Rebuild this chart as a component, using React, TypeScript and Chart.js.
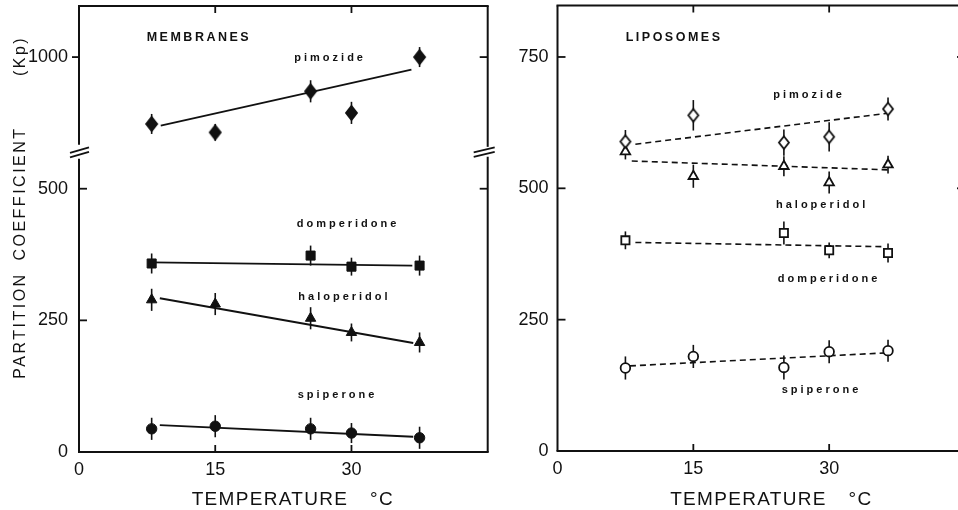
import React, { useEffect, useRef } from 'react';
import { Chart, registerables } from 'chart.js';

Chart.register(...registerables);

const FONT = "'Liberation Sans', Arial, Helvetica, sans-serif";
const INK = '#111111';

// ---------------- Data ----------------
// temperatures (°C)
const membraneTemps = [8, 15, 25.5, 30, 37.5];
const liposomeTemps = [7.5, 15, 25, 30, 36.5];

// Membranes: partition coefficients (Kp) and error half-widths
const memPimozide = [873, 857, 935, 894, 1000];
const memPimozideErr = [19, 16, 21, 21, 19];
const memDomperidone = [358, null, 373, 352, 354];
const memDomperidoneErr = [19, 0, 19, 17, 19];
const memHaloperidol = [289, 281, 254, 227, 208];
const memHaloperidolErr = [21, 21, 21, 17, 19];
const memSpiperone = [44, 49, 44, 36, 27];
const memSpiperoneErr = [21, 21, 21, 19, 21];

// Membranes: regression lines (start/end temperature, start/end Kp)
const memPimozideFitT = [9, 36.6];
const memPimozideFitK = [870, 976];
const memDomperidoneFitT = [8, 36.7];
const memDomperidoneFitK = [360, 354];
const memHaloperidolFitT = [8.9, 36.8];
const memHaloperidolFitK = [292, 207];
const memSpiperoneFitT = [8.9, 36.8];
const memSpiperoneFitK = [51, 29];

// Liposomes: partition coefficients (Kp) and error half-widths
const lipPimozide = [589, 639, 587, 598, 651];
const lipPimozideErr = [22, 29, 25, 28, 22];
const lipHaloperidol = [570, 523, 542, 511, 545];
const lipHaloperidolErr = [15, 22, 19, 21, 17];
const lipDomperidone = [401, null, 415, 382, 377];
const lipDomperidoneErr = [17, 0, 22, 15, 18];
const lipSpiperone = [158, 180, 159, 189, 191];
const lipSpiperoneErr = [22, 22, 23, 22, 21];

// Liposomes: regression lines
const lipPimozideFitT = [8.6, 36.5];
const lipPimozideFitK = [584, 643];
const lipHaloperidolFitT = [8.2, 36.7];
const lipHaloperidolFitK = [552, 535];
const lipDomperidoneFitT = [8.6, 35.8];
const lipDomperidoneFitK = [397, 389];
const lipSpiperoneFitT = [8.0, 36.5];
const lipSpiperoneFitK = [162, 187];

// Axes
const tempTicks = [0, 15, 30];
const tempRange = [0, 45];
const memKpTicksLower = [0, 250, 500];
const memKpTicksUpper = [1000];
const memLowerRange = [0, 570];
const memUpperRange = [820, 1097];
const lipKpTicks = [0, 250, 500, 750];
const lipRange = [0, 848];

// Text
const yTitleWords = ['PARTITION', 'COEFFICIENT', '(Kp)'];
const xTitleWord = 'TEMPERATURE';
const xTitleUnit = '°C';
const memPanelLabel = 'MEMBRANES';
const lipPanelLabel = 'LIPOSOMES';
const drugNames = { pim: 'pimozide', dom: 'domperidone', hal: 'haloperidol', spi: 'spiperone' };

// ---------------- helpers ----------------
function points(temps: number[], vals: (number | null)[], errs: number[]) {
  const out: any[] = [];
  temps.forEach((t, i) => {
    if (vals[i] != null) out.push({ x: t, y: vals[i], err: errs[i] });
  });
  return out;
}
function fit(ts: number[], ks: number[]) {
  return [{ x: ts[0], y: ks[0] }, { x: ts[1], y: ks[1] }];
}
function diamond(w: number, h: number, filled: boolean) {
  const lw = 1.8;
  const c = document.createElement('canvas');
  c.width = Math.ceil(w + lw * 2 + 2);
  c.height = Math.ceil(h + lw * 2 + 2);
  const ctx = c.getContext('2d')!;
  const cx = c.width / 2, cy = c.height / 2;
  ctx.beginPath();
  ctx.moveTo(cx, cy - h / 2);
  ctx.lineTo(cx + w / 2, cy);
  ctx.lineTo(cx, cy + h / 2);
  ctx.lineTo(cx - w / 2, cy);
  ctx.closePath();
  ctx.fillStyle = filled ? INK : '#ffffff';
  ctx.fill();
  ctx.lineWidth = lw;
  ctx.strokeStyle = INK;
  ctx.stroke();
  return c;
}

function markerSet(data: any[], style: any, radius: number, filled: boolean, yAxisID: string) {
  return {
    data,
    showLine: false,
    pointStyle: style,
    pointRadius: radius,
    pointBackgroundColor: filled ? INK : '#ffffff',
    pointBorderColor: INK,
    pointBorderWidth: filled ? 1 : 1.8,
    yAxisID,
    order: 0,
    errorBars: true,
  };
}
function lineSet(data: any[], dashed: boolean, yAxisID: string) {
  return {
    data,
    showLine: true,
    pointRadius: 0,
    borderColor: INK,
    borderWidth: dashed ? 1.6 : 1.8,
    borderDash: dashed ? [6, 4] : [],
    yAxisID,
    order: 1,
  };
}

function line(ctx: CanvasRenderingContext2D, x1: number, y1: number, x2: number, y2: number) {
  ctx.beginPath();
  ctx.moveTo(x1, y1);
  ctx.lineTo(x2, y2);
  ctx.stroke();
}

function text(ctx: any, s: string, x: number, y: number, font: string, spacing: number, align = 'left', baseline = 'middle') {
  ctx.save();
  ctx.font = font;
  ctx.letterSpacing = spacing + 'px';
  ctx.textAlign = align;
  ctx.textBaseline = baseline;
  ctx.fillStyle = INK;
  ctx.fillText(s, x, y);
  ctx.restore();
}

function panelPlugin(cfg: any) {
  return {
    id: 'panel_' + cfg.name,
    beforeDatasetsDraw(chart: any) {
      const ctx = chart.ctx;
      ctx.save();
      ctx.strokeStyle = INK;
      ctx.lineWidth = 1.6;
      chart.data.datasets.forEach((ds: any, i: number) => {
        if (!ds.errorBars) return;
        const meta = chart.getDatasetMeta(i);
        const xs = chart.scales[meta.xAxisID];
        const ys = chart.scales[meta.yAxisID];
        ds.data.forEach((p: any) => {
          if (!p.err) return;
          const px = xs.getPixelForValue(p.x);
          line(ctx, px, ys.getPixelForValue(p.y + p.err), px, ys.getPixelForValue(p.y - p.err));
        });
      });
      ctx.restore();
    },
    afterDraw(chart: any) {
      const ctx = chart.ctx;
      const { left: L, right: R, top: T, bottom: B } = chart.chartArea;
      const xs = chart.scales.x;
      ctx.save();
      ctx.strokeStyle = INK;
      ctx.lineWidth = 2;
      // frame
      line(ctx, L - 1, T, R + 1, T);
      line(ctx, L - 1, B, R + 1, B);
      if (cfg.breakScale) {
        const bY = chart.scales[cfg.breakScale].bottom;
        line(ctx, L, T, L, bY - 7);
        line(ctx, L, bY + 7, L, B);
        line(ctx, R, T, R, bY - 5);
        line(ctx, R, bY + 5, R, B);
        ctx.lineWidth = 1.8;
        for (const k of [0, 4.5]) {
          line(ctx, L - 9, bY + 1 + k, L + 10, bY - 4.5 + k);
          line(ctx, R - 14, bY + 0.5 + k, R + 7, bY - 4.5 + k);
        }
      } else {
        line(ctx, L, T, L, B);
        line(ctx, R, T, R, B);
      }
      // ticks
      ctx.lineWidth = 1.8;
      const TL = 7;
      cfg.leftTicks.forEach((t: any) => {
        const y = chart.scales[t.scale].getPixelForValue(t.value);
        if (t.dir === 'out') line(ctx, L - TL, y, L, y);
        else line(ctx, L, y, L + TL + 1, y);
      });
      cfg.rightTicks.forEach((t: any) => {
        const y = chart.scales[t.scale].getPixelForValue(t.value);
        line(ctx, R - TL - 1, y, R, y);
      });
      cfg.xFrameTicks.forEach((v: number) => {
        const x = xs.getPixelForValue(v);
        line(ctx, x, T, x, T + TL);
        line(ctx, x, B, x, B - TL);
      });
      ctx.restore();
      // texts
      const ox = cfg.offsetX;
      cfg.texts.forEach((t: any) => text(ctx, t.s, t.x - ox, t.y, t.font, t.sp, t.align || 'left', t.base || 'middle'));
      // x title
      text(ctx, xTitleWord, L + 112.7, 504.5, `19px ${FONT}`, 1.3, 'left', 'alphabetic');
      text(ctx, xTitleUnit, L + 291, 504.5, `19px ${FONT}`, 1.3, 'left', 'alphabetic');
      // y title
      if (cfg.yTitle) {
        cfg.yTitle.forEach((w: any) => {
          ctx.save();
          ctx.translate(w.x - ox, w.y);
          ctx.rotate(-Math.PI / 2);
          text(ctx, w.s, 0, 0, `16px ${FONT}`, 2.5, 'center', 'middle');
          ctx.restore();
        });
      }
    },
  };
}

const tickFont = { family: FONT, size: 18 };
const labelFont = `bold 11px ${FONT}`;
const panelFont = `bold 12.5px ${FONT}`;
const plainNum = (v: any) => String(v);

function yFit(width: number) {
  return (s: any) => {
    s.width = width;
    s.paddingTop = 0;
    s.paddingBottom = 0;
  };
}

function xScale(height: number) {
  return {
    type: 'linear',
    position: 'bottom',
    min: tempRange[0],
    max: tempRange[1],
    grid: { display: false, drawTicks: false },
    border: { display: false },
    ticks: { font: tickFont, color: INK, padding: 7, maxRotation: 0, callback: plainNum },
    afterBuildTicks: (s: any) => { s.ticks = tempTicks.map((v) => ({ value: v })); },
    afterFit: (s: any) => {
      s.height = height;
      s.paddingLeft = 0;
      s.paddingRight = 0;
    },
  };
}

function buildMembranes() {
  const pimStyle = diamond(11, 14, true);
  return {
    type: 'scatter',
    data: {
      datasets: [
        markerSet(points(membraneTemps, memPimozide, memPimozideErr), pimStyle, 6, true, 'yTop'),
        markerSet(points(membraneTemps, memDomperidone, memDomperidoneErr), 'rect', 6.4, true, 'y'),
        markerSet(points(membraneTemps, memHaloperidol, memHaloperidolErr), 'triangle', 6, true, 'y'),
        markerSet(points(membraneTemps, memSpiperone, memSpiperoneErr), 'circle', 5.2, true, 'y'),
        lineSet(fit(memPimozideFitT, memPimozideFitK), false, 'yTop'),
        lineSet(fit(memDomperidoneFitT, memDomperidoneFitK), false, 'y'),
        lineSet(fit(memHaloperidolFitT, memHaloperidolFitK), false, 'y'),
        lineSet(fit(memSpiperoneFitT, memSpiperoneFitK), false, 'y'),
      ],
    },
    options: {
      animation: false,
      responsive: false,
      events: [],
      layout: { padding: { left: 0, top: 6, right: 12.3, bottom: 0 }, autoPadding: false },
      plugins: { legend: { display: false }, tooltip: { enabled: false }, title: { display: false } },
      scales: {
        x: xScale(58),
        y: {
          type: 'linear',
          position: 'left',
          stack: 'kp',
          stackWeight: memLowerRange[1] - memLowerRange[0],
          min: memLowerRange[0],
          max: memLowerRange[1],
          grid: { display: false, drawTicks: false },
          border: { display: false },
          ticks: { font: tickFont, color: INK, padding: 11, callback: plainNum },
          afterBuildTicks: (s: any) => { s.ticks = memKpTicksLower.map((v) => ({ value: v })); },
          afterFit: yFit(79),
        },
        yTop: {
          type: 'linear',
          position: 'left',
          stack: 'kp',
          stackWeight: memUpperRange[1] - memUpperRange[0],
          min: memUpperRange[0],
          max: memUpperRange[1],
          grid: { display: false, drawTicks: false },
          border: { display: false },
          ticks: { font: tickFont, color: INK, padding: 11, callback: plainNum },
          afterBuildTicks: (s: any) => { s.ticks = memKpTicksUpper.map((v) => ({ value: v })); },
          afterFit: yFit(79),
        },
      },
    },
    plugins: [
      panelPlugin({
        name: 'mem',
        offsetX: 0,
        breakScale: 'yTop',
        leftTicks: [
          { scale: 'yTop', value: 1000, dir: 'out' },
          { scale: 'y', value: 500, dir: 'in' },
          { scale: 'y', value: 250, dir: 'in' },
        ],
        rightTicks: [
          { scale: 'yTop', value: 1000 },
          { scale: 'y', value: 500 },
        ],
        xFrameTicks: [15, 30],
        yTitle: [
          { s: yTitleWords[0], x: 21, y: 325.5 },
          { s: yTitleWords[1], x: 21, y: 193.5 },
          { s: yTitleWords[2], x: 21, y: 56 },
        ],
        texts: [
          { s: memPanelLabel, x: 146.7, y: 37.5, font: panelFont, sp: 2.5 },
          { s: drugNames.pim, x: 294.3, y: 57.5, font: labelFont, sp: 3 },
          { s: drugNames.dom, x: 296.7, y: 224, font: labelFont, sp: 3 },
          { s: drugNames.hal, x: 298.3, y: 297, font: labelFont, sp: 3 },
          { s: drugNames.spi, x: 297.7, y: 395, font: labelFont, sp: 3 },
        ],
      }),
    ],
  };
}

function buildLiposomes() {
  const pimStyle = diamond(10, 12.5, false);
  return {
    type: 'scatter',
    data: {
      datasets: [
        markerSet(points(liposomeTemps, lipPimozide, lipPimozideErr), pimStyle, 6, false, 'y'),
        markerSet(points(liposomeTemps, lipHaloperidol, lipHaloperidolErr), 'triangle', 5.5, false, 'y'),
        markerSet(points(liposomeTemps, lipDomperidone, lipDomperidoneErr), 'rect', 5.8, false, 'y'),
        markerSet(points(liposomeTemps, lipSpiperone, lipSpiperoneErr), 'circle', 4.8, false, 'y'),
        lineSet(fit(lipPimozideFitT, lipPimozideFitK), true, 'y'),
        lineSet(fit(lipHaloperidolFitT, lipHaloperidolFitK), true, 'y'),
        lineSet(fit(lipDomperidoneFitT, lipDomperidoneFitK), true, 'y'),
        lineSet(fit(lipSpiperoneFitT, lipSpiperoneFitK), true, 'y'),
      ],
    },
    options: {
      animation: false,
      responsive: false,
      events: [],
      layout: { padding: { left: 0, top: 5.5, right: 15, bottom: 0 }, autoPadding: false },
      plugins: { legend: { display: false }, tooltip: { enabled: false }, title: { display: false } },
      scales: {
        x: xScale(59),
        y: {
          type: 'linear',
          position: 'left',
          min: lipRange[0],
          max: lipRange[1],
          grid: { display: false, drawTicks: false },
          border: { display: false },
          ticks: { font: tickFont, color: INK, padding: 9, callback: plainNum },
          afterBuildTicks: (s: any) => { s.ticks = lipKpTicks.map((v) => ({ value: v })); },
          afterFit: yFit(57.5),
        },
      },
    },
    plugins: [
      panelPlugin({
        name: 'lip',
        offsetX: 500,
        leftTicks: [
          { scale: 'y', value: 750, dir: 'in' },
          { scale: 'y', value: 500, dir: 'in' },
          { scale: 'y', value: 250, dir: 'in' },
        ],
        rightTicks: [
          { scale: 'y', value: 750 },
          { scale: 'y', value: 500 },
        ],
        xFrameTicks: [15, 30],
        texts: [
          { s: lipPanelLabel, x: 625.7, y: 37.5, font: panelFont, sp: 2.5 },
          { s: drugNames.pim, x: 773.3, y: 95, font: labelFont, sp: 3 },
          { s: drugNames.hal, x: 776, y: 205, font: labelFont, sp: 3 },
          { s: drugNames.dom, x: 777.7, y: 279, font: labelFont, sp: 3 },
          { s: drugNames.spi, x: 781.7, y: 390, font: labelFont, sp: 3 },
        ],
      }),
    ],
  };
}

export default function App() {
  const leftRef = useRef<HTMLCanvasElement>(null);
  const rightRef = useRef<HTMLCanvasElement>(null);

  useEffect(() => {
    const c1 = new Chart(leftRef.current as any, buildMembranes() as any);
    const c2 = new Chart(rightRef.current as any, buildLiposomes() as any);
    return () => {
      c1.destroy();
      c2.destroy();
    };
  }, []);

  return (
    <div
      style={{
        position: 'fixed',
        left: 0,
        top: 0,
        width: 958,
        height: 510,
        overflow: 'hidden',
        background: '#ffffff',
      }}
    >
      <canvas ref={leftRef} width={500} height={510} style={{ position: 'absolute', left: 0, top: 0, width: 500, height: 510 }} />
      <canvas ref={rightRef} width={480} height={510} style={{ position: 'absolute', left: 500, top: 0, width: 480, height: 510 }} />
    </div>
  );
}
